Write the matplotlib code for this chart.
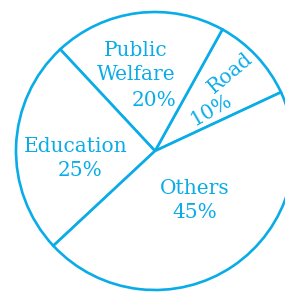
import matplotlib
matplotlib.use("Agg")
import matplotlib.pyplot as plt

categories = ["Road", "Public Welfare", "Education", "Others"]
values = [10, 20, 25, 45]
pct_labels = ["10%", "20%", "25%", "45%"]

color = "#0AACE8"
W, H = 285, 292
fig = plt.figure(figsize=(W / 100, H / 100), dpi=100)
ax = fig.add_axes([0, 0, 1, 1])

cx, cy, r = 155, 151, 139
ax.pie(values, center=(cx, H - cy), radius=r, startangle=25, counterclock=True,
       wedgeprops=dict(facecolor="white", edgecolor=color, linewidth=1.9),
       frame=False)
ax.set_xlim(0, W)
ax.set_ylim(0, H)
ax.set_aspect("equal")
ax.axis("off")

font = dict(family="DejaVu Serif", color=color, fontsize=14.5, ha="center", va="center")

def t(x, y, s, rot=0):
    ax.text(x, H - y, s, rotation=rot, rotation_mode="anchor", **font)

t(136, 50, "Public")
t(136, 75, "Welfare")
t(154, 101, pct_labels[1])
t(230, 73, categories[0], rot=40)
t(211, 110, pct_labels[0], rot=30)
t(76, 147, categories[2])
t(80, 171, pct_labels[2])
t(195, 188, categories[3])
t(195, 213, pct_labels[3])

fig.savefig("out.png", dpi=100, facecolor="white")
